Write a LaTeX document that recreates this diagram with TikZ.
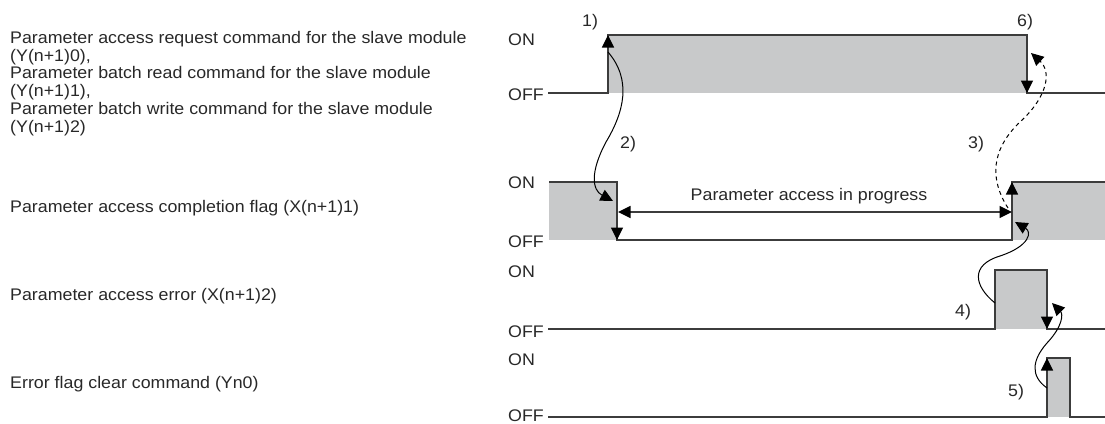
\documentclass[tikz,border=0pt]{standalone}
\usepackage{fontspec}
\setmainfont{Liberation Sans}[FakeStretch=1.06]
\usetikzlibrary{arrows.meta}
\definecolor{ink}{RGB}{40,40,40}
\definecolor{wave}{RGB}{60,60,60}
\definecolor{shade}{RGB}{200,201,202}
\begin{document}
\begin{tikzpicture}[x=1pt,y=-1pt,
  txt/.style={inner sep=0pt, text=ink, font=\fontsize{16.8}{17.8}\selectfont},
  lbl/.style={txt, anchor=base west},
  wv/.style={draw=wave, line width=1.4pt},
  shd/.style={fill=shade},
  edgetip/.style={draw=wave, line width=1.4pt, -{Triangle[length=12.5pt,width=12pt,color=black]}},
  curve/.style={draw=black, line width=1pt, -{Triangle[length=12.5pt,width=12pt]}},
  dcurve/.style={curve, dash pattern=on 4pt off 3.5pt},
]
\useasboundingbox (0,0) rectangle (1105,423);

% ---------- left labels ----------
\node[txt, anchor=north west, align=left] (t1) at (10,31)
 {Parameter access request command for the slave module\\
  (Y(n+1)0),\\
  Parameter batch read command for the slave module\\
  (Y(n+1)1),\\
  Parameter batch write command for the slave module\\
  (Y(n+1)2)};
\node[lbl] (t2) at (10,212.5) {Parameter access completion flag (X(n+1)1)};
\node[lbl] (t3) at (10,300.5) {Parameter access error (X(n+1)2)};
\node[lbl] (t4) at (10,388.5) {Error flag clear command (Yn0)};

% ---------- ON / OFF ----------
\node[lbl] (on1) at (508,45) {ON};
\node[lbl] (off1) at (508,100) {OFF};
\node[lbl] (on2) at (508,188) {ON};
\node[lbl] (off2) at (508,247.5) {OFF};
\node[lbl] (on3) at (508,277) {ON};
\node[lbl] (off3) at (508,337) {OFF};
\node[lbl] (on4) at (508,365) {ON};
\node[lbl] (off4) at (508,421.5) {OFF};

% ---------- signal 1 ----------
\fill[shd] (608,35) rectangle (1027,93);
\draw[wv] (548,93) -- (608,93) -- (608,35) -- (1027,35) -- (1027,93) -- (1105,93);
\draw[edgetip] (608,60) -- (608,35);
\draw[edgetip] (1027,70) -- (1027,93);

% ---------- signal 2 ----------
\fill[shd] (549,182) rectangle (617,240);
\fill[shd] (1012,182) rectangle (1105,240);
\draw[wv] (549,182) -- (617,182) -- (617,240) -- (1012,240) -- (1012,182) -- (1105,182);
\draw[edgetip] (617,220) -- (617,240);
\draw[edgetip] (1012,205) -- (1012,182);

% ---------- signal 3 ----------
\fill[shd] (995,270) rectangle (1047,329);
\draw[wv] (548,329) -- (995,329) -- (995,270) -- (1047,270) -- (1047,329) -- (1105,329);
\draw[edgetip] (1047,305) -- (1047,329);

% ---------- signal 4 ----------
\fill[shd] (1047,358) rectangle (1070,417);
\draw[wv] (548,417) -- (1047,417) -- (1047,358) -- (1070,358) -- (1070,417) -- (1105,417);
\draw[edgetip] (1047,380) -- (1047,358);

% ---------- in progress ----------
\coordinate (pa) at (618,212);
\coordinate (pb) at (1012,212);
\draw[wv, {Triangle[length=12.5pt,width=12pt,color=black]}-{Triangle[length=12.5pt,width=12pt,color=black]}] (pa) -- (pb);
\node[txt, anchor=base] (prog) at (809,200) {Parameter access in progress};

% ---------- step numbers ----------
\node[lbl] (n1) at (582,26) {1)};
\node[lbl] (n6) at (1017,26) {6)};
\node[lbl] (n2) at (620,148) {2)};
\node[lbl] (n3) at (968,148) {3)};
\node[lbl] (n4) at (955,316) {4)};
\node[lbl] (n5) at (1008,396) {5)};

% ---------- cause/effect curves ----------
\coordinate (c2a) at (608,52);
\coordinate (c2m) at (606,142);
\coordinate (c2b) at (613,201);
\draw[curve] (c2a) .. controls (632,80) and (624,112) .. (c2m)
                    .. controls (590,172) and (592,190) .. (c2b);

\coordinate (c3a) at (1008,208);
\coordinate (c3m) at (1021,121);
\coordinate (c3b) at (1031,53);
\draw[dcurve] (c3a) .. controls (990,180) and (990,150) .. (c3m)
                    .. controls (1047,97) and (1052,72) .. (c3b);

\coordinate (c4a) at (995,303);
\coordinate (c4m) at (1000,256);
\coordinate (c4b) at (1015,222);
\draw[curve] (c4a) .. controls (974,286) and (970,265) .. (c4m)
                   .. controls (1030,246) and (1032,232) .. (c4b);

\coordinate (c5a) at (1047,388);
\coordinate (c5m) at (1047,343);
\coordinate (c5b) at (1052,303);
\draw[curve] (c5a) .. controls (1030,376) and (1032,360) .. (c5m)
                   .. controls (1063,326) and (1063,314) .. (c5b);
\end{tikzpicture}
\end{document}
